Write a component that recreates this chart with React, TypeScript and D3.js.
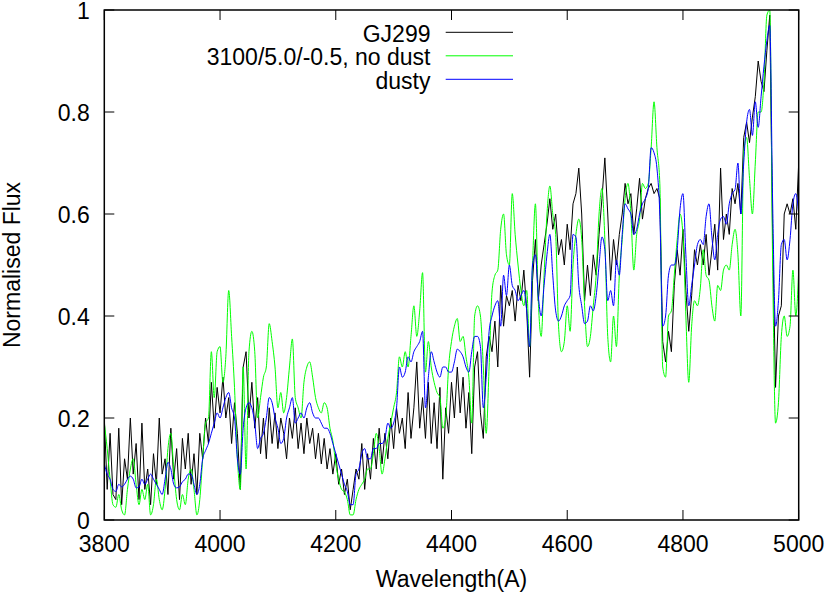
import React, { useRef, useEffect } from 'react';
import * as d3 from 'd3';

// all series are sampled every 5 A from 3800 to 5000
const step = 5;

// GJ299 observed spectrum
const gj299 = [
  0.2, 0.06, 0.17, 0.05, 0.04, 0.18, 0.03, 0.12, 0.08, 0.2, 0.09, 0.15, 0.04, 0.19, 0.06, 0.1, 0.03, 0.13, 0.07, 0.2,
  0.09, 0.12, 0.05, 0.18, 0.08, 0.14, 0.04, 0.16, 0.1, 0.17, 0.07, 0.13, 0.05, 0.17, 0.12, 0.2, 0.15, 0.27, 0.18, 0.26,
  0.21, 0.28, 0.2, 0.24, 0.15, 0.23, 0.17, 0.06, 0.3, 0.33, 0.2, 0.27, 0.18, 0.24, 0.13, 0.2, 0.12, 0.22, 0.15, 0.21,
  0.14, 0.2, 0.17, 0.12, 0.2, 0.16, 0.22, 0.14, 0.19, 0.13, 0.2, 0.15, 0.18, 0.12, 0.17, 0.11, 0.16, 0.1, 0.14, 0.09,
  0.13, 0.07, 0.1, 0.05, 0.08, 0.02, 0.06, 0.1, 0.08, 0.15, 0.06, 0.13, 0.08, 0.16, 0.1, 0.18, 0.11, 0.17, 0.12, 0.2,
  0.14, 0.22, 0.17, 0.2, 0.14, 0.25, 0.16, 0.22, 0.31, 0.18, 0.24, 0.16, 0.27, 0.15, 0.23, 0.14, 0.26, 0.08, 0.22, 0.17,
  0.27, 0.2, 0.3, 0.21, 0.28, 0.18, 0.25, 0.13, 0.3, 0.33, 0.21, 0.16, 0.32, 0.36, 0.33, 0.39, 0.3, 0.46, 0.38, 0.44,
  0.42, 0.45, 0.39, 0.46, 0.43, 0.49, 0.41, 0.28, 0.47, 0.55, 0.43, 0.5, 0.54, 0.58, 0.63, 0.57, 0.6, 0.52, 0.55, 0.5,
  0.58, 0.53, 0.62, 0.64, 0.69, 0.6, 0.43, 0.5, 0.44, 0.52, 0.48, 0.56, 0.63, 0.71, 0.6, 0.47, 0.55, 0.5, 0.56, 0.6,
  0.66, 0.62, 0.64, 0.56, 0.61, 0.67, 0.59, 0.63, 0.65, 0.66, 0.64, 0.65, 0.63, 0.35, 0.31, 0.37, 0.33, 0.46, 0.53, 0.48,
  0.57, 0.45, 0.37, 0.44, 0.53, 0.5, 0.54, 0.5, 0.56, 0.48, 0.53, 0.58, 0.49, 0.69, 0.55, 0.6, 0.56, 0.65, 0.62, 0.66,
  0.6, 0.75, 0.78, 0.74, 0.79, 0.83, 0.9, 0.86, 0.84, 0.92, 0.99, 0.55, 0.26, 0.4, 0.42, 0.6, 0.62, 0.6, 0.63, 0.57,
  0.7,
];

// model 3100/5.0/-0.5 without dust
const noDust = [
  0.19, 0.14, 0.08, 0.03, 0.025, 0.05, 0.02, 0.01, 0.06, 0.1, 0.12, 0.07, 0.03, 0.06, 0.04, 0.07, 0.01, 0.03, 0.08, 0.04,
  0.02, 0.06, 0.14, 0.17, 0.1, 0.04, 0.02, 0.05, 0.03, 0.08, 0.1, 0.06, 0.01, 0.04, 0.12, 0.19, 0.2, 0.33, 0.24, 0.33,
  0.34, 0.27, 0.32, 0.45, 0.36, 0.26, 0.12, 0.06, 0.3, 0.1, 0.33, 0.37, 0.33, 0.2, 0.24, 0.28, 0.3, 0.385, 0.35, 0.3,
  0.22, 0.25, 0.21, 0.24, 0.3, 0.355, 0.24, 0.22, 0.2, 0.27, 0.3, 0.31, 0.28, 0.24, 0.22, 0.21, 0.23, 0.22, 0.18, 0.155,
  0.11, 0.08, 0.06, 0.055, 0.04, 0.01, 0.01, 0.04, 0.06, 0.07, 0.08, 0.1, 0.1, 0.13, 0.17, 0.14, 0.09, 0.12, 0.16, 0.19,
  0.22, 0.25, 0.32, 0.3, 0.33, 0.3, 0.36, 0.42, 0.36, 0.41, 0.485, 0.29, 0.35, 0.3, 0.27, 0.25, 0.24, 0.18, 0.2, 0.3,
  0.35, 0.38, 0.395, 0.35, 0.36, 0.32, 0.28, 0.19, 0.4, 0.42, 0.4, 0.3, 0.17, 0.3, 0.447, 0.48, 0.49, 0.57, 0.6, 0.52,
  0.5, 0.64, 0.56, 0.5, 0.45, 0.42, 0.45, 0.34, 0.5, 0.62, 0.43, 0.36, 0.48, 0.6, 0.655, 0.6, 0.56, 0.38, 0.33, 0.35,
  0.42, 0.37, 0.5, 0.56, 0.59, 0.55, 0.42, 0.34, 0.36, 0.42, 0.48, 0.6, 0.65, 0.55, 0.36, 0.31, 0.4, 0.34, 0.48, 0.55,
  0.63, 0.66, 0.6, 0.49, 0.56, 0.59, 0.66, 0.65, 0.66, 0.73, 0.82, 0.73, 0.66, 0.3, 0.28, 0.4, 0.41, 0.48, 0.55, 0.6,
  0.56, 0.4, 0.27, 0.38, 0.43, 0.42, 0.455, 0.53, 0.48, 0.47, 0.42, 0.39, 0.46, 0.45, 0.49, 0.5, 0.49, 0.54, 0.57, 0.52,
  0.4, 0.72, 0.75, 0.67, 0.6, 0.7, 0.8, 0.8, 0.86, 0.99, 1.0, 0.5, 0.19, 0.23, 0.36, 0.4, 0.36, 0.38, 0.49, 0.4,
  0.49,
];

// dusty model
const dusty = [
  0.11, 0.09, 0.08, 0.06, 0.056, 0.07, 0.065, 0.07, 0.08, 0.086, 0.08, 0.063, 0.065, 0.08, 0.07, 0.08, 0.09, 0.08, 0.07, 0.06,
  0.05, 0.08, 0.113, 0.1, 0.07, 0.063, 0.065, 0.075, 0.08, 0.09, 0.09, 0.07, 0.05, 0.07, 0.12, 0.136, 0.15, 0.17, 0.19, 0.21,
  0.2, 0.22, 0.24, 0.25, 0.22, 0.2, 0.12, 0.09, 0.18, 0.22, 0.23, 0.22, 0.19, 0.14, 0.16, 0.17, 0.2, 0.24, 0.23, 0.2,
  0.18, 0.15, 0.16, 0.2, 0.22, 0.24, 0.19, 0.2, 0.21, 0.2, 0.22, 0.23, 0.21, 0.2, 0.2, 0.19, 0.18, 0.18, 0.17, 0.15,
  0.13, 0.11, 0.09, 0.07, 0.056, 0.03, 0.03, 0.09, 0.1, 0.13, 0.14, 0.12, 0.12, 0.14, 0.14, 0.15, 0.15, 0.16, 0.19, 0.18,
  0.19, 0.22, 0.3, 0.28, 0.29, 0.32, 0.31, 0.33, 0.34, 0.35, 0.37, 0.22, 0.28, 0.33, 0.31, 0.29, 0.28, 0.3, 0.3, 0.29,
  0.29, 0.31, 0.335, 0.33, 0.32, 0.3, 0.29, 0.33, 0.36, 0.36, 0.34, 0.22, 0.28, 0.37, 0.4, 0.42, 0.43, 0.38, 0.48, 0.44,
  0.5, 0.46, 0.45, 0.43, 0.44, 0.45, 0.41, 0.34, 0.5, 0.52, 0.44, 0.4, 0.46, 0.52, 0.56, 0.48, 0.41, 0.39, 0.4, 0.42,
  0.43, 0.44, 0.56, 0.555, 0.46, 0.42, 0.385, 0.39, 0.42, 0.41, 0.44, 0.5, 0.555, 0.53, 0.43, 0.45, 0.42, 0.51, 0.48, 0.56,
  0.62, 0.61, 0.6, 0.56, 0.57, 0.6, 0.62, 0.63, 0.65, 0.73, 0.72, 0.69, 0.6, 0.38, 0.4, 0.48, 0.5, 0.5, 0.53, 0.61,
  0.64, 0.52, 0.42, 0.46, 0.5, 0.54, 0.55, 0.54, 0.595, 0.62, 0.555, 0.51, 0.56, 0.59, 0.595, 0.58, 0.62, 0.64, 0.648, 0.7,
  0.6, 0.7, 0.78, 0.805, 0.754, 0.82, 0.77, 0.83, 0.89, 0.94, 0.97, 0.62, 0.38, 0.43, 0.54, 0.55, 0.51, 0.55, 0.62, 0.64,
  0.6,
];

const xTicks = [3800, 4000, 4200, 4400, 4600, 4800, 5000];
const yTicks = [0, 0.2, 0.4, 0.6, 0.8, 1];
const legendLabels = ['GJ299', '3100/5.0/-0.5, no dust', 'dusty'];
const seriesColors = ['#000000', '#00ff00', '#0000ff'];

function SpectrumChart({ width = 830, height = 593 }) {
  const svgRef = useRef(null);

  useEffect(() => {
    const margin = { top: 10, right: 31.3, bottom: 73, left: 104.3 };
    const innerWidth = width - margin.left - margin.right;
    const innerHeight = height - margin.top - margin.bottom;
    const font = '"Liberation Sans", Arial, Helvetica, sans-serif';

    const svg = d3.select(svgRef.current);
    svg.selectAll('*').remove();

    const xScale = d3.scaleLinear().domain([3800, 5000]).range([0, innerWidth]);
    const yScale = d3.scaleLinear().domain([0, 1]).range([innerHeight, 0]);

    svg.append('defs').append('clipPath')
      .attr('id', 'plot-clip')
      .append('rect')
      .attr('width', innerWidth)
      .attr('height', innerHeight);

    const g = svg.append('g')
      .attr('transform', `translate(${margin.left}, ${margin.top})`);

    const toPoints = values => values.map((v, i) => ({ x: 3800 + i * step, y: v }));

    const series = [
      { data: toPoints(gj299), curve: d3.curveLinear },
      { data: toPoints(noDust), curve: d3.curveMonotoneX },
      { data: toPoints(dusty), curve: d3.curveMonotoneX },
    ];

    // Lines, plotted in legend order so dusty ends up on top
    const lines = g.append('g').attr('clip-path', 'url(#plot-clip)');
    series.forEach((s, i) => {
      const line = d3.line()
        .x(d => xScale(d.x))
        .y(d => yScale(d.y))
        .curve(s.curve);
      lines.append('path')
        .datum(s.data)
        .attr('fill', 'none')
        .attr('stroke', seriesColors[i])
        .attr('stroke-width', 1)
        .attr('stroke-linejoin', 'round')
        .attr('d', line);
    });

    // Ticks (inside, mirrored on top and right)
    const tickLen = 10;
    xTicks.forEach(t => {
      const x = xScale(t);
      g.append('line').attr('x1', x).attr('x2', x).attr('y1', innerHeight).attr('y2', innerHeight - tickLen)
        .attr('stroke', '#000').attr('stroke-width', 1);
      g.append('line').attr('x1', x).attr('x2', x).attr('y1', 0).attr('y2', tickLen)
        .attr('stroke', '#000').attr('stroke-width', 1);
      g.append('text')
        .attr('x', x)
        .attr('y', innerHeight + 32)
        .attr('text-anchor', 'middle')
        .attr('font-family', font)
        .attr('font-size', 23)
        .attr('fill', '#000')
        .text(t);
    });

    yTicks.forEach(t => {
      const y = yScale(t);
      g.append('line').attr('x1', 0).attr('x2', tickLen).attr('y1', y).attr('y2', y)
        .attr('stroke', '#000').attr('stroke-width', 1);
      g.append('line').attr('x1', innerWidth).attr('x2', innerWidth - tickLen).attr('y1', y).attr('y2', y)
        .attr('stroke', '#000').attr('stroke-width', 1);
      g.append('text')
        .attr('x', -14.5)
        .attr('y', Math.max(y + 8.5, 8))
        .attr('text-anchor', 'end')
        .attr('font-family', font)
        .attr('font-size', 23)
        .attr('fill', '#000')
        .text(String(t));
    });

    // Frame
    g.append('rect')
      .attr('width', innerWidth)
      .attr('height', innerHeight)
      .attr('fill', 'none')
      .attr('stroke', '#000')
      .attr('stroke-width', 1.5);

    // Axis labels
    g.append('text')
      .attr('x', innerWidth / 2)
      .attr('y', innerHeight + 67)
      .attr('text-anchor', 'middle')
      .attr('font-family', font)
      .attr('font-size', 23)
      .attr('fill', '#000')
      .text('Wavelength(A)');

    g.append('text')
      .attr('transform', 'rotate(-90)')
      .attr('x', -innerHeight / 2)
      .attr('y', -84)
      .attr('text-anchor', 'middle')
      .attr('font-family', font)
      .attr('font-size', 23)
      .attr('fill', '#000')
      .text('Normalised Flux');

    // Legend
    const legend = svg.append('g');
    legendLabels.forEach((label, i) => {
      const y = 32.3 + i * 23.5;
      legend.append('text')
        .attr('x', 430.5)
        .attr('y', y + 9.5)
        .attr('text-anchor', 'end')
        .attr('font-family', font)
        .attr('font-size', 23)
        .attr('fill', '#000')
        .text(label);
      legend.append('line')
        .attr('x1', 445.7)
        .attr('x2', 513)
        .attr('y1', y)
        .attr('y2', y)
        .attr('stroke', seriesColors[i])
        .attr('stroke-width', 1);
    });
  }, [width, height]);

  return (
    <svg
      ref={svgRef}
      width={width}
      height={height}
      style={{ position: 'absolute', left: 0, top: 0, background: '#fff' }}
    />
  );
}

export default function App() {
  return <SpectrumChart />;
}
